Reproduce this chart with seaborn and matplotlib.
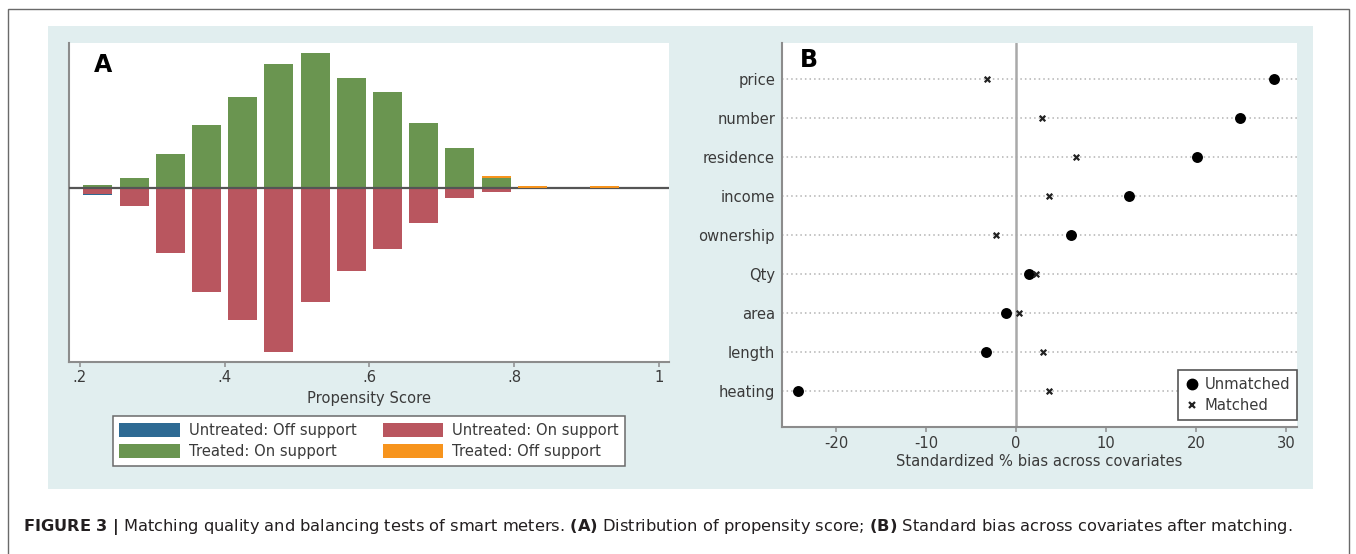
import numpy as np
import pandas as pd
import matplotlib
matplotlib.use("Agg")
import matplotlib.pyplot as plt
from matplotlib.patches import Patch, Rectangle
from matplotlib.lines import Line2D
import seaborn as sns

# ---------------- data: panel A (propensity score distribution) ----------------
ps_bins = [0.225, 0.275, 0.325, 0.375, 0.425, 0.475, 0.525, 0.575,
           0.625, 0.675, 0.725, 0.775, 0.825, 0.875, 0.925]
treated_on = [3, 10, 34, 63, 91, 124, 135, 110, 96, 65, 40, 10, 0, 0, 0]
treated_off = [0, 0, 0, 0, 0, 0, 0, 0, 0, 0, 0, 2, 2, 0, 2]
untreated_on = [6, 18, 65, 104, 132, 164, 114, 83, 61, 35, 10, 4, 0, 0, 0]
untreated_off = [1, 0, 0, 0, 0, 0, 0, 0, 0, 0, 0, 0, 0, 0, 0]
ps_ticks = [0.2, 0.4, 0.6, 0.8, 1.0]
ps_ticklabels = [".2", ".4", ".6", ".8", "1"]
legend_a_labels = ["Untreated: Off support", "Treated: On support",
                   "Untreated: On support", "Treated: Off support"]

# ---------------- data: panel B (standardized bias) ----------------
covariates = ["price", "number", "residence", "income", "ownership",
              "Qty", "area", "length", "heating"]
bias_unmatched = [28.6, 24.9, 20.1, 12.5, 6.1, 1.4, -1.1, -3.3, -24.2]
bias_matched = [-3.2, 2.9, 6.7, 3.7, -2.2, 2.2, 0.35, 3.0, 3.6]
bias_ticks = [-20, -10, 0, 10, 20, 30]

caption = (r"$\mathbf{FIGURE\ 3\ |}$ Matching quality and balancing tests of smart meters. "
           r"$\mathbf{(A)}$ Distribution of propensity score; "
           r"$\mathbf{(B)}$ Standard bias across covariates after matching.")

# ---------------- style ----------------
sns.set_style("white")
plt.rcParams["font.family"] = ["DejaVu Sans"]
plt.rcParams["mathtext.fontset"] = "dejavusans"

C_BLUE = "#2d6a93"
C_RED = "#b9565f"
C_GREEN = "#6a9550"
C_ORANGE = "#f7941d"
C_PANEL = "#e1eeef"
C_TEXT = "#3a3a3a"
C_AXIS = "#8c8c8c"
FS = 10.6

W, H = 1356, 554
fig = plt.figure(figsize=(W / 100, H / 100), dpi=100)
fig.patch.set_facecolor("white")


def px_rect(x0, y0, x1, y1):
    return [x0 / W, 1 - y1 / H, (x1 - x0) / W, (y1 - y0) / H]


# outer frame and light panel background
fig.patches.append(Rectangle((8 / W, -0.2), (1349 - 8) / W, 1 - 9 / H + 0.2,
                             transform=fig.transFigure, fill=False,
                             edgecolor="#6a6a6a", linewidth=1.0, zorder=-10))
fig.patches.append(Rectangle((48 / W, 1 - 489 / H), (1313 - 48) / W, (489 - 26) / H,
                             transform=fig.transFigure, facecolor=C_PANEL,
                             edgecolor="none", zorder=-9))

# ================= Panel A =================
ax_a = fig.add_axes(px_rect(69, 43, 669, 362))
ax_a.set_facecolor("white")

neg_untreated_on = [-v for v in untreated_on]
sns.barplot(x=ps_bins, y=treated_on, native_scale=True, width=0.8, color=C_GREEN,
            saturation=1, errorbar=None, linewidth=0, ax=ax_a, zorder=3)
sns.barplot(x=ps_bins, y=neg_untreated_on, native_scale=True, width=0.8, color=C_RED,
            saturation=1, errorbar=None, linewidth=0, ax=ax_a, zorder=3)
ax_a.axhline(0, color="#555555", linewidth=1.6, zorder=5)
ax_a.bar(ps_bins, treated_off, bottom=treated_on, width=0.04, color=C_ORANGE,
         linewidth=0, zorder=6)
ax_a.bar(ps_bins, [-v for v in untreated_off], bottom=neg_untreated_on, width=0.04,
         color=C_BLUE, linewidth=0, zorder=6)

ax_a.set_xlim(0.1851, 1.0137)
ax_a.set_ylim(-173.7, 145.3)
ax_a.set_xticks(ps_ticks)
ax_a.set_xticklabels(ps_ticklabels)
ax_a.set_yticks([])
ax_a.set_ylabel("")
for s in ["top", "right"]:
    ax_a.spines[s].set_visible(False)
for s in ["left", "bottom"]:
    ax_a.spines[s].set_color(C_AXIS)
    ax_a.spines[s].set_linewidth(1.5)
ax_a.tick_params(axis="x", direction="out", length=3.6, width=1.1, color=C_AXIS,
                 pad=2.0, labelsize=FS, labelcolor=C_TEXT, bottom=True)
ax_a.set_xlabel("Propensity Score", fontsize=FS, color=C_TEXT)
ax_a.xaxis.set_label_coords(0.5, -(398 - 362) / (362 - 43))
ax_a.xaxis.label.set_va("center")

handles_a = [Patch(facecolor=C_BLUE, edgecolor="none"),
             Patch(facecolor=C_GREEN, edgecolor="none"),
             Patch(facecolor=C_RED, edgecolor="none"),
             Patch(facecolor=C_ORANGE, edgecolor="none")]
leg_a = fig.legend(handles_a, legend_a_labels, ncol=2, loc="upper center",
                   bbox_to_anchor=(369 / W, 1 - 416 / H), borderaxespad=0,
                   fontsize=FS, frameon=True, fancybox=False, edgecolor="#6a6a6a",
                   framealpha=1, facecolor="white",
                   handlelength=4.1, handleheight=1.1, handletextpad=0.6,
                   columnspacing=1.8, labelspacing=0.45, borderpad=0.45,
                   labelcolor=C_TEXT)
leg_a.get_frame().set_linewidth(1.1)

fig.text(103.5 / W, 1 - 65 / H, "A", fontsize=17, fontweight="bold",
         ha="center", va="center", color="black")

# ================= Panel B =================
ax_b = fig.add_axes(px_rect(782, 43, 1297, 427))
ax_b.set_facecolor("white")

df_b = pd.DataFrame({"covariate": covariates,
                     "Unmatched": bias_unmatched,
                     "Matched": bias_matched})
ypos = np.arange(len(covariates))
for y in ypos:
    ax_b.axhline(y, color="#b3b3b3", linewidth=1.1, linestyle=(0, (1, 2)), zorder=1)
ax_b.axvline(0, color="#a9a9a9", linewidth=1.8, zorder=2)

sns.scatterplot(x=df_b["Unmatched"], y=ypos, marker="o", s=62, color="black",
                edgecolor="black", linewidth=0, ax=ax_b, zorder=4)
sns.scatterplot(x=df_b["Matched"], y=ypos, marker="x", s=16, color="#222222",
                linewidth=1.6, ax=ax_b, zorder=4)

ax_b.set_xlim(-26.0, 31.2)
ax_b.set_ylim(8.93, -0.915)
ax_b.set_yticks(ypos)
ax_b.set_yticklabels(covariates)
ax_b.set_xticks(bias_ticks)
ax_b.set_xticklabels([str(t) for t in bias_ticks])
ax_b.set_ylabel("")
for s in ["top", "right"]:
    ax_b.spines[s].set_visible(False)
for s in ["left", "bottom"]:
    ax_b.spines[s].set_color(C_AXIS)
    ax_b.spines[s].set_linewidth(1.5)
ax_b.tick_params(axis="x", direction="out", length=3.6, width=1.1, color=C_AXIS,
                 pad=3.0, labelsize=FS, labelcolor=C_TEXT, bottom=True)
ax_b.tick_params(axis="y", length=0, pad=5.0, labelsize=FS, labelcolor=C_TEXT, left=False)
ax_b.set_xlabel("Standardized % bias across covariates", fontsize=FS, color=C_TEXT)
ax_b.xaxis.set_label_coords(0.5, -(461.7 - 427) / (427 - 43))
ax_b.xaxis.label.set_va("center")

handles_b = [Line2D([], [], linestyle="none", marker="o", markersize=7.5,
                    markerfacecolor="black", markeredgecolor="black"),
             Line2D([], [], linestyle="none", marker="x", markersize=4.5,
                    markeredgewidth=1.6, color="#222222")]
leg_b = ax_b.legend(handles_b, ["Unmatched", "Matched"], loc="lower right",
                    bbox_to_anchor=(1.0, (427 - 420) / (427 - 43)), borderaxespad=0,
                    fontsize=FS, frameon=True, fancybox=False, edgecolor="#555555",
                    framealpha=1, facecolor="white",
                    handlelength=0.9, handletextpad=0.45, labelspacing=0.45,
                    borderpad=0.45, labelcolor=C_TEXT)
leg_b.get_frame().set_linewidth(1.2)

fig.text(808.8 / W, 1 - 60 / H, "B", fontsize=17, fontweight="bold",
         ha="center", va="center", color="black")

# ================= caption =================
cap = fig.text(23 / W, 1 - 531 / H, caption, fontsize=10, ha="left",
               va="baseline", color="#231f20")
fig.canvas.draw()
r = fig.canvas.get_renderer()
wpx = cap.get_window_extent(r).width
cap.set_fontsize(10 * (1297 - 23) / wpx)

fig.savefig("out.png", dpi=100, facecolor="white")
